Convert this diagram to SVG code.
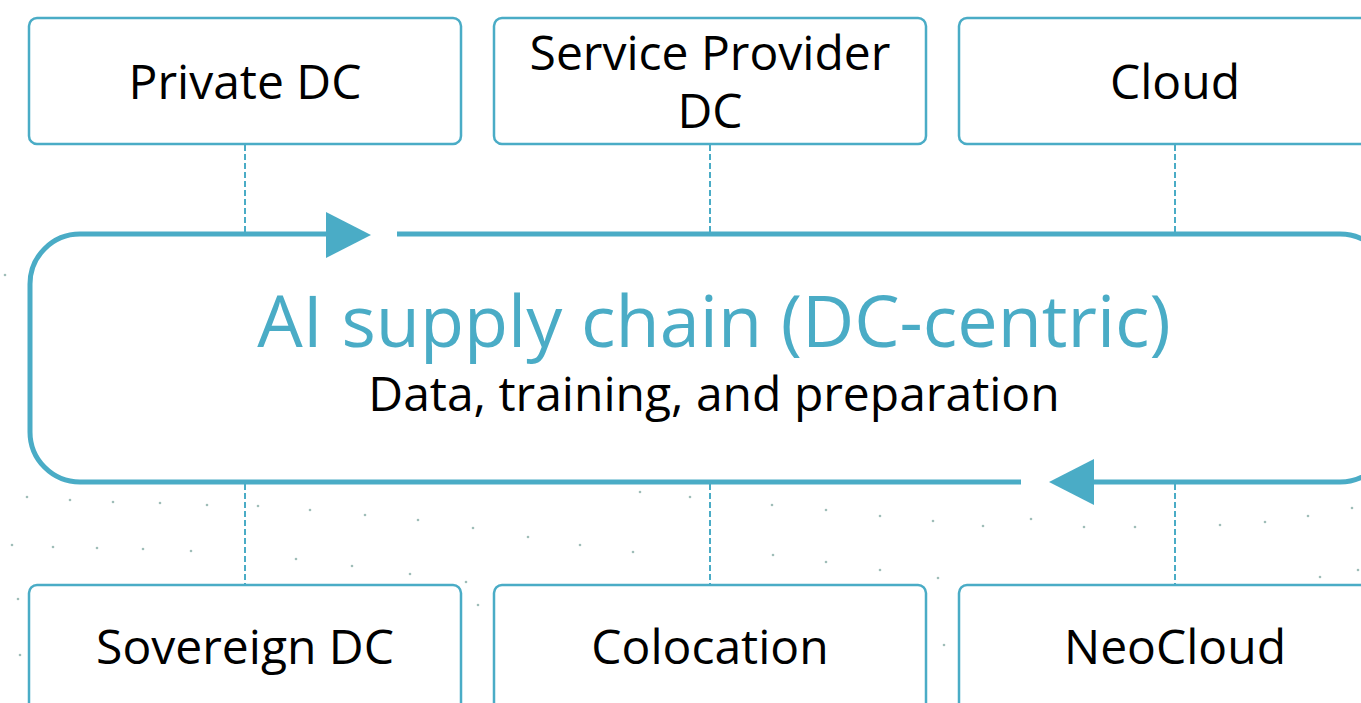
<svg xmlns="http://www.w3.org/2000/svg" width="1361" height="703" viewBox="0 0 1361 703">
<style>
.box{fill:#fff;stroke:#4aacc6;stroke-width:2.5}
.lbl{font-family:"Open Sans","Noto Sans",sans-serif;font-size:48px;fill:#000;text-anchor:middle}
.dash{stroke:#4aacc6;stroke-width:2;stroke-dasharray:6 3;fill:none}
.dot{fill:#9fbdb8}
</style>
<rect width="1361" height="703" fill="#fff"/>
<g id="dots">
<circle class="dot" cx="27" cy="497" r="1.3"/><circle class="dot" cx="70" cy="500" r="1.3"/><circle class="dot" cx="113" cy="502" r="1.3"/><circle class="dot" cx="160" cy="503" r="1.3"/><circle class="dot" cx="207" cy="505" r="1.3"/><circle class="dot" cx="258" cy="506" r="1.3"/><circle class="dot" cx="310" cy="510" r="1.3"/><circle class="dot" cx="365" cy="515" r="1.3"/><circle class="dot" cx="418" cy="520" r="1.3"/><circle class="dot" cx="473" cy="528" r="1.3"/><circle class="dot" cx="528" cy="537" r="1.3"/><circle class="dot" cx="580" cy="545" r="1.3"/><circle class="dot" cx="633" cy="552" r="1.3"/>
<circle class="dot" cx="12" cy="545" r="1.3"/><circle class="dot" cx="53" cy="547" r="1.3"/><circle class="dot" cx="97" cy="548" r="1.3"/><circle class="dot" cx="143" cy="549" r="1.3"/><circle class="dot" cx="191" cy="551" r="1.3"/><circle class="dot" cx="296" cy="559" r="1.3"/><circle class="dot" cx="352" cy="566" r="1.3"/><circle class="dot" cx="410" cy="574" r="1.3"/><circle class="dot" cx="466" cy="582" r="1.3"/>
<circle class="dot" cx="640" cy="492" r="1.3"/><circle class="dot" cx="690" cy="497" r="1.3"/><circle class="dot" cx="772" cy="505" r="1.3"/><circle class="dot" cx="826" cy="510" r="1.3"/><circle class="dot" cx="880" cy="516" r="1.3"/><circle class="dot" cx="933" cy="521" r="1.3"/><circle class="dot" cx="983" cy="526" r="1.3"/><circle class="dot" cx="1031" cy="519" r="1.3"/><circle class="dot" cx="1084" cy="527" r="1.3"/><circle class="dot" cx="1135" cy="527" r="1.3"/><circle class="dot" cx="1220" cy="525" r="1.3"/><circle class="dot" cx="1265" cy="522" r="1.3"/><circle class="dot" cx="1308" cy="516" r="1.3"/><circle class="dot" cx="1352" cy="508" r="1.3"/>
<circle class="dot" cx="773" cy="555" r="1.3"/><circle class="dot" cx="826" cy="562" r="1.3"/><circle class="dot" cx="880" cy="570" r="1.3"/><circle class="dot" cx="938" cy="578" r="1.3"/><circle class="dot" cx="1320" cy="577" r="1.3"/><circle class="dot" cx="1358" cy="570" r="1.3"/>
<circle class="dot" cx="18" cy="599" r="1.3"/><circle class="dot" cx="20" cy="655" r="1.3"/><circle class="dot" cx="478" cy="605" r="1.3"/><circle class="dot" cx="944" cy="645" r="1.3"/><circle class="dot" cx="5" cy="275" r="1.3"/>
</g>
<g id="connectors">
<line class="dash" x1="245" y1="145" x2="245" y2="232"/>
<line class="dash" x1="710" y1="145" x2="710" y2="232"/>
<line class="dash" x1="1175" y1="145" x2="1175" y2="232"/>
<line class="dash" x1="245" y1="484" x2="245" y2="585"/>
<line class="dash" x1="710" y1="484" x2="710" y2="585"/>
<line class="dash" x1="1175" y1="484" x2="1175" y2="585"/>
</g>
<g id="cycle">
<path d="M326 234 H80 A50 50 0 0 0 30 284 V432 A50 50 0 0 0 80 482 H1021" fill="none" stroke="#4aacc6" stroke-width="5"/>
<path d="M397 234 H1340 A50 50 0 0 1 1390 284 V432 A50 50 0 0 1 1340 482 H1094" fill="none" stroke="#4aacc6" stroke-width="5"/>
<polygon points="326,212 371,235 326,258" fill="#4aacc6"/>
<polygon points="1094,459 1049,482 1094,505" fill="#4aacc6"/>
<text x="714" y="347" font-family="'Open Sans','Noto Sans',sans-serif" font-size="72" fill="#4aacc6" text-anchor="middle">AI supply chain (DC-centric)</text>
<text x="714" y="411" font-family="'Open Sans','Noto Sans',sans-serif" font-size="48" fill="#000" text-anchor="middle">Data, training, and preparation</text>
</g>
<g id="private-dc"><rect class="box" x="29" y="18" width="432" height="126" rx="8"/><text class="lbl" x="245" y="99">Private DC</text></g>
<g id="service-provider-dc"><rect class="box" x="494" y="18" width="432" height="126" rx="8"/><text class="lbl" x="710" y="70">Service Provider</text><text class="lbl" x="710" y="128">DC</text></g>
<g id="cloud"><rect class="box" x="959" y="18" width="432" height="126" rx="8"/><text class="lbl" x="1175" y="99">Cloud</text></g>
<g id="sovereign-dc"><rect class="box" x="29" y="585" width="432" height="140" rx="8"/><text class="lbl" x="245" y="664">Sovereign DC</text></g>
<g id="colocation"><rect class="box" x="494" y="585" width="432" height="140" rx="8"/><text class="lbl" x="710" y="664">Colocation</text></g>
<g id="neocloud"><rect class="box" x="959" y="585" width="432" height="140" rx="8"/><text class="lbl" x="1175" y="664">NeoCloud</text></g>
</svg>
